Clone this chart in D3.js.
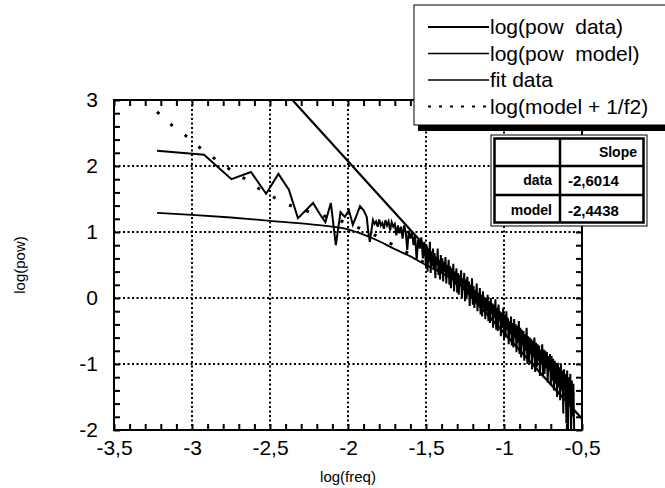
<!DOCTYPE html>
<html>
<head>
<meta charset="utf-8">
<script src="https://cdn.jsdelivr.net/npm/d3@7"></script>
<style>
body { margin: 0; background: #fff; }
svg { display: block; }
text { font-family: "Liberation Sans", Arial, Helvetica, sans-serif; fill: #000; }
</style>
</head>
<body>
<script>
const logFreq = [
  -3.224, -2.923, -2.747, -2.622, -2.525, -2.446, -2.379, -2.321, -2.270, -2.224,
  -2.183, -2.145, -2.110, -2.078, -2.048, -2.020, -1.994, -1.969, -1.945, -1.923,
  -1.90, -1.89, -1.88, -1.87, -1.86, -1.85, -1.84, -1.83, -1.82, -1.81,
  -1.80, -1.79, -1.78, -1.77, -1.76, -1.75, -1.74, -1.73, -1.72, -1.71,
  -1.70, -1.69, -1.68, -1.67, -1.66, -1.65, -1.64, -1.63, -1.62, -1.61,
  -1.60, -1.59, -1.58, -1.57, -1.56, -1.55, -1.54, -1.53, -1.52, -1.51,
  -1.500,
  -1.495, -1.490, -1.485, -1.480, -1.475, -1.470, -1.465, -1.460, -1.455, -1.450,
  -1.445, -1.440, -1.435, -1.430, -1.425, -1.420, -1.415, -1.410, -1.405, -1.400,
  -1.395, -1.390, -1.385, -1.380, -1.375, -1.370, -1.365, -1.360, -1.355, -1.350,
  -1.345, -1.340, -1.335, -1.330, -1.325, -1.320, -1.315, -1.310, -1.305, -1.300,
  -1.295, -1.290, -1.285, -1.280, -1.275, -1.270, -1.265, -1.260, -1.255, -1.250,
  -1.245, -1.240, -1.235, -1.230, -1.225, -1.220, -1.215, -1.210, -1.205, -1.200,
  -1.195, -1.190, -1.185, -1.180, -1.175, -1.170, -1.165, -1.160, -1.155, -1.150,
  -1.145, -1.140, -1.135, -1.130, -1.125, -1.120, -1.115, -1.110, -1.105, -1.100,
  -1.095, -1.090, -1.085, -1.080, -1.075, -1.070, -1.065, -1.060, -1.055, -1.050,
  -1.045, -1.040, -1.035, -1.030, -1.025, -1.020, -1.015, -1.010, -1.005, -1.000,
  -0.995, -0.990, -0.985, -0.980, -0.975, -0.970, -0.965, -0.960, -0.955, -0.950,
  -0.945, -0.940, -0.935, -0.930, -0.925, -0.920, -0.915, -0.910, -0.905, -0.900,
  -0.895, -0.890, -0.885, -0.880, -0.875, -0.870, -0.865, -0.860, -0.855, -0.850,
  -0.845, -0.840, -0.835, -0.830, -0.825, -0.820, -0.815, -0.810, -0.805, -0.800,
  -0.795, -0.790, -0.785, -0.780, -0.775, -0.770, -0.765, -0.760, -0.755, -0.750,
  -0.745, -0.740, -0.735, -0.730, -0.725, -0.720, -0.715, -0.710, -0.705, -0.700,
  -0.695, -0.690, -0.685, -0.680, -0.675, -0.670, -0.665, -0.660, -0.655, -0.650,
  -0.645, -0.640, -0.635, -0.630, -0.625, -0.620, -0.615, -0.610, -0.605, -0.600,
  -0.595, -0.590, -0.585, -0.580, -0.575, -0.570, -0.565, -0.560, -0.555, -0.550
];
const logPowData = [
  2.23, 2.17, 1.80, 1.91, 1.58, 1.88, 1.64, 1.21, 1.33, 1.44,
  1.28, 1.15, 1.44, 0.80, 1.30, 1.23, 1.33, 1.11, 1.25, 1.39,
  1.33, 1.28, 1.23, 1.00, 0.85, 1.02, 1.18, 1.12, 1.16, 1.08,
  1.19, 1.10, 1.14, 1.05, 1.18, 1.10, 1.16, 1.02, 1.15, 1.08,
  1.12, 0.95, 1.10, 0.98, 1.08, 0.90, 1.10, 1.00, 0.73, 1.02,
  0.90, 1.00, 0.80, 0.95, 0.58, 0.88, 0.75, 0.92, 0.60, 0.85,
  0.47,
  0.80, 0.40, 0.72, 0.55, 0.85, 0.38, 0.70, 0.48, 0.75, 0.42,
  0.68, 0.30, 0.62, 0.50, 0.75, 0.35, 0.58, 0.28, 0.65, 0.40,
  0.60, 0.25, 0.55, 0.40, 0.62, 0.22, 0.50, 0.35, 0.58, 0.20,
  0.48, 0.15, 0.45, 0.30, 0.52, 0.10, 0.40, 0.20, 0.45, 0.08,
  0.38, 0.05, 0.35, 0.18, 0.42, 0.00, 0.30, 0.12, 0.38, -0.05,
  0.28, -0.02, 0.32, 0.08, 0.25, -0.12, 0.20, 0.02, 0.30, -0.10,
  0.18, -0.15, 0.12, -0.05, 0.22, -0.20, 0.08, -0.12, 0.15, -0.25,
  0.05, -0.28, 0.10, -0.15, 0.02, -0.32, 0.00, -0.20, 0.05, -0.35,
  -0.05, -0.38, 0.00, -0.25, -0.08, -0.45, -0.10, -0.30, -0.02, -0.48,
  -0.15, -0.50, -0.10, -0.35, -0.20, -0.58, -0.22, -0.45, -0.15, -0.62,
  -0.25, -0.60, -0.20, -0.48, -0.30, -0.70, -0.35, -0.55, -0.28, -0.72,
  -0.38, -0.75, -0.32, -0.60, -0.40, -0.82, -0.42, -0.68, -0.35, -0.85,
  -0.45, -0.90, -0.48, -0.72, -0.50, -0.95, -0.55, -0.80, -0.45, -1.00,
  -0.58, -0.98, -0.60, -0.85, -0.62, -1.08, -0.65, -0.90, -0.60, -1.12,
  -0.68, -1.05, -0.70, -0.95, -0.72, -1.18, -0.78, -1.00, -0.70, -1.20,
  -0.78, -1.15, -0.80, -1.05, -0.82, -1.28, -0.88, -1.10, -0.85, -1.32,
  -0.88, -1.25, -0.92, -1.40, -0.95, -1.30, -1.00, -1.50, -0.98, -1.35,
  -1.05, -1.55, -1.00, -1.40, -1.10, -1.75, -1.08, -1.50, -1.15, -1.90,
  -1.10, -2.00, -1.20, -1.60, -1.15, -2.05, -1.25, -1.80, -1.30, -2.05
];

// model spectrum
const modelFreq = [-3.224, -3.0, -2.75, -2.5, -2.25, -2.0, -1.9, -1.8, -1.7, -1.6, -1.5, -1.4, -1.3, -1.2, -1.1, -1.0, -0.9, -0.8, -0.7, -0.6, -0.55];
const logPowModel = [1.29, 1.26, 1.22, 1.17, 1.12, 1.04, 0.96, 0.86, 0.74, 0.63, 0.50, 0.38, 0.24, 0.06, -0.14, -0.38, -0.62, -0.87, -1.11, -1.35, -1.47];

// model + 1/f2
const dotFreq = [-3.224, -3.13, -3.03, -2.94, -2.86, -2.77, -2.67, -2.58, -2.50, -2.40, -2.30, -2.22, -2.10, -2.0, -1.9, -1.8, -1.7, -1.6, -1.5, -1.4, -1.3, -1.2, -1.0, -0.8, -0.55];
const logModelPlus = [2.82, 2.62, 2.44, 2.26, 2.12, 1.97, 1.82, 1.67, 1.56, 1.43, 1.35, 1.28, 1.21, 1.13, 1.03, 0.92, 0.79, 0.66, 0.52, 0.39, 0.25, 0.07, -0.38, -0.87, -1.47];

// linear fit of the data
const fitSlope = -2.6014;
const fitIntercept = -3.13;
const fitFreq = [-2.4, -0.5];

const legendLabels = ["log(pow  data)", "log(pow  model)", "fit data", "log(model + 1/f2)"];
const tableNames = ["data", "model"];
const tableSlopes = ["-2,6014", "-2,4438"];

const xTicks = [-3.5, -3, -2.5, -2, -1.5, -1, -0.5];
const yTicks = [-2, -1, 0, 1, 2, 3];

const W = 665, H = 488;
const svg = d3.select("body").append("svg").attr("width", W).attr("height", H);

const x = d3.scaleLinear().domain([-3.5, -0.5]).range([114, 582]);
const y = d3.scaleLinear().domain([-2, 3]).range([430, 100]);
const fmt = d => String(d).replace(".", ",");

// grid
const grid = svg.append("g").attr("stroke", "#000").attr("stroke-width", 2).attr("stroke-dasharray", "2,2.5");
grid.selectAll(".gx").data(xTicks.slice(1, -1)).enter().append("line")
  .attr("x1", d => x(d)).attr("x2", d => x(d)).attr("y1", y(3)).attr("y2", y(-2));
grid.selectAll(".gy").data(yTicks.slice(1, -1)).enter().append("line")
  .attr("y1", d => y(d)).attr("y2", d => y(d)).attr("x1", x(-3.5)).attr("x2", x(-0.5));

// minor ticks on all four sides
const minorX = d3.range(-3.5, -0.45, 0.1);
const minorY = d3.range(-2, 3.01, 0.2);
function tickAxis(axis, tx, ty) {
  const g = svg.append("g").attr("transform", `translate(${tx},${ty})`).call(axis);
  g.select(".domain").remove();
  g.selectAll("line").attr("stroke", "#000").attr("stroke-width", 2);
}
tickAxis(d3.axisBottom(x).tickValues(minorX).tickSize(-6).tickFormat(""), 0, y(-2));
tickAxis(d3.axisTop(x).tickValues(minorX).tickSize(-6).tickFormat(""), 0, y(3));
tickAxis(d3.axisLeft(y).tickValues(minorY).tickSize(-6).tickFormat(""), x(-3.5), 0);
tickAxis(d3.axisRight(y).tickValues(minorY).tickSize(-6).tickFormat(""), x(-0.5), 0);

// tick labels
const xl = svg.append("g").attr("transform", `translate(0,${y(-2)})`)
  .call(d3.axisBottom(x).tickValues(xTicks).tickSize(0).tickPadding(10).tickFormat(fmt));
xl.select(".domain").remove();
xl.selectAll("text").attr("font-size", 21).attr("font-family", "Liberation Sans, Arial, sans-serif");

const yl = svg.append("g").attr("transform", `translate(${x(-3.5)},0)`)
  .call(d3.axisLeft(y).tickValues(yTicks).tickSize(0).tickPadding(16).tickFormat(fmt));
yl.select(".domain").remove();
yl.selectAll("text").attr("font-size", 21).attr("font-family", "Liberation Sans, Arial, sans-serif");

svg.append("text").attr("x", 348).attr("y", 482).attr("text-anchor", "middle")
  .attr("font-size", 15).text("log(freq)");
svg.append("text").attr("transform", "translate(25,265) rotate(-90)").attr("text-anchor", "middle")
  .attr("font-size", 15).text("log(pow)");

// curves
svg.append("clipPath").attr("id", "plot").append("rect")
  .attr("x", x(-3.5)).attr("y", y(3)).attr("width", x(-0.5) - x(-3.5)).attr("height", y(-2) - y(3));
const plot = svg.append("g").attr("clip-path", "url(#plot)");
const line = d3.line().x(d => x(d[0])).y(d => y(d[1]));

plot.append("path").datum(d3.zip(modelFreq, logPowModel)).attr("d", line.curve(d3.curveMonotoneX))
  .attr("fill", "none").attr("stroke", "#000").attr("stroke-width", 1.8);
plot.append("path").datum(d3.zip(dotFreq, logModelPlus)).attr("d", line.curve(d3.curveMonotoneX))
  .attr("fill", "none").attr("stroke", "#000").attr("stroke-width", 3).attr("stroke-dasharray", "3,15");
line.curve(d3.curveLinear);
plot.append("path").datum(d3.zip(logFreq, logPowData)).attr("d", line)
  .attr("fill", "none").attr("stroke", "#000").attr("stroke-width", 2).attr("stroke-linejoin", "miter");
plot.append("path").datum(fitFreq.map(f => [f, fitSlope * f + fitIntercept])).attr("d", line)
  .attr("fill", "none").attr("stroke", "#000").attr("stroke-width", 2.2);

// frame
svg.append("rect").attr("x", x(-3.5)).attr("y", y(3))
  .attr("width", x(-0.5) - x(-3.5)).attr("height", y(-2) - y(3))
  .attr("fill", "none").attr("stroke", "#000").attr("stroke-width", 2);

// legend box with drop shadow
const lg = svg.append("g").attr("transform", "translate(414,5)");
lg.append("rect").attr("x", 4).attr("y", 4).attr("width", 260).attr("height", 122).attr("fill", "#000");
lg.append("rect").attr("x", 0).attr("y", 0).attr("width", 260).attr("height", 120)
  .attr("fill", "#fff").attr("stroke", "#000").attr("stroke-width", 1);
const legendWidths = [2, 1.5, 1.5, 2];
legendLabels.forEach((lab, i) => {
  const cy = 22 + i * 26.5;
  const ln = lg.append("line").attr("x1", 14).attr("x2", 75).attr("y1", cy).attr("y2", cy)
    .attr("stroke", "#000").attr("stroke-width", legendWidths[i]);
  if (i === 3) ln.attr("stroke-dasharray", "3,8");
  lg.append("text").attr("x", 76).attr("y", cy).attr("dy", "0.35em")
    .attr("font-size", 21).style("white-space", "pre").text(lab);
});

// slope table
const tb = svg.append("g").attr("transform", "translate(491,135)");
const colX = [0, 69, 156];
const rowY = [0, 31, 60, 91];
tb.append("rect").attr("x", 0).attr("y", 0).attr("width", colX[2]).attr("height", rowY[3])
  .attr("fill", "#fff").attr("stroke", "#000").attr("stroke-width", 1);
tb.append("rect").attr("x", 3.5).attr("y", 3.5).attr("width", colX[2] - 7).attr("height", rowY[3] - 7)
  .attr("fill", "none").attr("stroke", "#000").attr("stroke-width", 2.5);
tb.append("line").attr("x1", colX[1]).attr("x2", colX[1]).attr("y1", 3).attr("y2", rowY[3] - 3)
  .attr("stroke", "#000").attr("stroke-width", 2.5);
[rowY[1], rowY[2]].forEach(ry => tb.append("line").attr("x1", 3).attr("x2", colX[2] - 3)
  .attr("y1", ry).attr("y2", ry).attr("stroke", "#000").attr("stroke-width", 2.5));
const mono = "DejaVu Sans Mono, Liberation Mono, monospace";
tb.append("text").attr("x", colX[2] - 10).attr("y", (rowY[0] + rowY[1]) / 2 + 2).attr("dy", "0.35em")
  .attr("text-anchor", "end").attr("font-family", mono).attr("font-weight", "bold").attr("font-size", 14).text("Slope");
tableNames.forEach((n, i) => {
  const cy = (rowY[i + 1] + rowY[i + 2]) / 2;
  tb.append("text").attr("x", colX[1] - 8).attr("y", cy).attr("dy", "0.35em")
    .attr("text-anchor", "end").attr("font-family", mono).attr("font-weight", "bold").attr("font-size", 14).text(n);
  tb.append("text").attr("x", colX[1] + 8).attr("y", cy).attr("dy", "0.35em")
    .attr("font-family", mono).attr("font-weight", "bold").attr("font-size", 15).text(tableSlopes[i]);
});
</script>
</body>
</html>
